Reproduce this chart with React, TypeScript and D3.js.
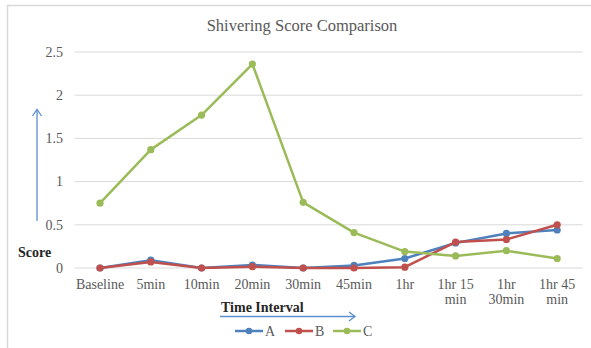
import React from "react";
import * as d3 from "d3";

const categories = ["Baseline", "5min", "10min", "20min", "30min", "45min", "1hr", "1hr 15 min", "1hr 30min", "1hr 45 min"];
const categoryLines = [["Baseline"], ["5min"], ["10min"], ["20min"], ["30min"], ["45min"], ["1hr"], ["1hr 15", "min"], ["1hr", "30min"], ["1hr 45", "min"]];
const seriesA = [0, 0.09, 0, 0.035, 0, 0.03, 0.11, 0.29, 0.4, 0.44];
const seriesB = [0, 0.07, 0, 0.015, 0, 0, 0.01, 0.3, 0.33, 0.5];
const seriesC = [0.75, 1.37, 1.77, 2.36, 0.76, 0.41, 0.19, 0.14, 0.2, 0.11];
const seriesNames = ["A", "B", "C"];
const yTicks = [0, 0.5, 1, 1.5, 2, 2.5];

const colors = ["#4F81BD", "#C0504D", "#9BBB59"];
const font = "'Liberation Serif', 'Times New Roman', serif";

export default function App() {
  const W = 591, H = 348;
  const x = d3.scaleBand<string>().domain(categories).range([74.6, 582.6]);
  const y = d3.scaleLinear().domain([0, 2.5]).range([268, 52]);
  const cx = (c: string) => (x(c) as number) + x.bandwidth() / 2;
  const line = d3.line<number>().x((_, i) => cx(categories[i])).y((v) => y(v));
  const all = [seriesA, seriesB, seriesC];
  const legendX = [235, 285, 333];
  return (
    <svg width={W} height={H} style={{ position: "absolute", left: 0, top: 0 }}>
      <rect x={0} y={0} width={W} height={H} fill="#fff" />
      <path d={`M7.5,${H} L7.5,5.5 L${W},5.5`} fill="none" stroke="#d9d9d9" strokeWidth={1.5} />
      <text x={302} y={31} textAnchor="middle" fontFamily={font} fontSize={16.5} fill="#595959">Shivering Score Comparison</text>
      {yTicks.map((t) => (
        <g key={t}>
          <line x1={74.6} x2={582.6} y1={y(t)} y2={y(t)} stroke="#d9d9d9" strokeWidth={1} />
          <text x={63} y={y(t) + 4.8} textAnchor="end" fontFamily={font} fontSize={14} fill="#595959">{t}</text>
        </g>
      ))}
      {categories.map((c, i) => (
        <text key={c} x={cx(c)} y={289} textAnchor="middle" fontFamily={font} fontSize={14} fill="#595959">
          {categoryLines[i].map((l, j) => (
            <tspan key={j} x={cx(c)} dy={j === 0 ? 0 : 15}>{l}</tspan>
          ))}
        </text>
      ))}
      {all.map((s, k) => (
        <g key={k}>
          <path d={line(s) || ""} fill="none" stroke={colors[k]} strokeWidth={2.5} strokeLinejoin="round" />
          {s.map((v, i) => (
            <circle key={i} cx={cx(categories[i])} cy={y(v)} r={3.6} fill={colors[k]} />
          ))}
        </g>
      ))}
      <text x={18} y={257} fontFamily={font} fontSize={14} fontWeight="bold" fill="#262626">Score</text>
      <line x1={37} x2={37} y1={221} y2={110} stroke="#5B8FD0" strokeWidth={1.3} />
      <path d="M32.5,116 L37,109.5 L41.5,116" fill="none" stroke="#5B8FD0" strokeWidth={1.3} />
      <text x={221} y={312} fontFamily={font} fontSize={14} fontWeight="bold" fill="#262626">Time Interval</text>
      <line x1={220} x2={355} y1={316.5} y2={316.5} stroke="#5B8FD0" strokeWidth={1.3} />
      <path d="M349,312 L355,316.5 L349,321" fill="none" stroke="#5B8FD0" strokeWidth={1.3} />
      {seriesNames.map((n, k) => (
        <g key={n}>
          <line x1={legendX[k]} x2={legendX[k] + 28} y1={331} y2={331} stroke={colors[k]} strokeWidth={2.5} />
          <circle cx={legendX[k] + 14} cy={331} r={3.3} fill={colors[k]} />
          <text x={legendX[k] + 30} y={336} fontFamily={font} fontSize={14} fill="#595959">{n}</text>
        </g>
      ))}
    </svg>
  );
}
